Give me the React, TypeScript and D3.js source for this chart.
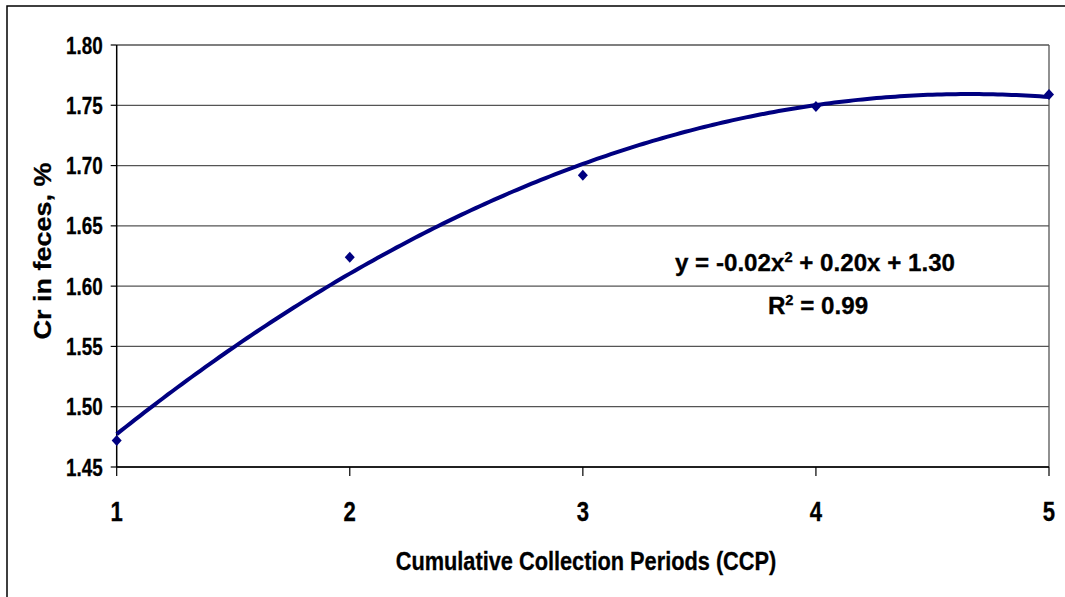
import { line as d3_line, range, scaleLinear } from "d3";
import type { FC, ReactNode } from "react";

// data
const periods = [1, 2, 3, 4, 5];
const crValues = [1.472, 1.624, 1.692, 1.749, 1.759];
const yTicks = [1.45, 1.5, 1.55, 1.6, 1.65, 1.7, 1.75, 1.8];
const xTicks = [1, 2, 3, 4, 5];

const W = 1065;
const H = 597;
const M = { left: 116.7, right: 1049, top: 45, bottom: 467 };
const NAVY = "#000080";
const FONT = "'Liberation Sans', Arial, sans-serif";

// least squares fit y = a + b x + c x^2 (solve 3x3 normal equations)
const fitQuadratic = (xs: number[], ys: number[]) => {
  const s = (p: number) => xs.reduce((acc, x) => acc + x ** p, 0);
  const t = (p: number) => xs.reduce((acc, x, i) => acc + x ** p * ys[i], 0);
  const A = [
    [s(0), s(1), s(2), t(0)],
    [s(1), s(2), s(3), t(1)],
    [s(2), s(3), s(4), t(2)],
  ];
  for (let i = 0; i < 3; i++) {
    for (let k = i + 1; k < 3; k++) {
      const f = A[k][i] / A[i][i];
      for (let j = i; j < 4; j++) A[k][j] -= f * A[i][j];
    }
  }
  const r = [0, 0, 0];
  for (let i = 2; i >= 0; i--) {
    let v = A[i][3];
    for (let j = i + 1; j < 3; j++) v -= A[i][j] * r[j];
    r[i] = v / A[i][i];
  }
  return (x: number) => r[0] + r[1] * x + r[2] * x * x;
};

// text helper, the original text is a bit squeezed / stretched horizontally
const Label: FC<{
  x: number;
  y: number;
  size: number;
  sx?: number;
  anchor?: "start" | "middle" | "end";
  rotate?: boolean;
  children: ReactNode;
}> = ({ x, y, size, sx = 1, anchor = "middle", rotate, children }) => (
  <text
    transform={
      rotate
        ? `translate(${x},${y}) rotate(-90) scale(1,${sx})`
        : `translate(${x},${y}) scale(${sx},1)`
    }
    textAnchor={anchor}
    fontFamily={FONT}
    fontWeight="bold"
    fontSize={size}
    fill="#000"
    stroke="#000"
    strokeWidth={0.3}
  >
    {children}
  </text>
);

const App: FC = () => {
  const x = scaleLinear().domain([1, 5]).range([M.left, M.right]);
  const y = scaleLinear().domain([1.45, 1.8]).range([M.bottom, M.top]);

  const trend = fitQuadratic(periods, crValues);
  const trendLine = d3_line<number>()
    .x((d) => x(d))
    .y((d) => y(trend(d)));
  const samples = [...range(1, 5, 0.02), 5];

  return (
    <svg
      width={W}
      height={H}
      style={{ position: "fixed", left: 0, top: 0, background: "#fff" }}
    >
      <rect x={0} y={0} width={W} height={H} fill="#fff" />
      {/* outer chart border */}
      <rect x={7} y={6} width={W + 20} height={H + 20} fill="none" stroke="#000" strokeWidth={1.5} />

      {/* gridlines */}
      {yTicks.map((v) => (
        <line key={v} x1={M.left} x2={M.right} y1={y(v)} y2={y(v)} stroke="#555" strokeWidth={1.3} />
      ))}
      {/* plot right edge */}
      <line x1={M.right} x2={M.right} y1={M.top} y2={M.bottom} stroke="#555" strokeWidth={1.3} />

      {/* y axis */}
      <line x1={M.left} x2={M.left} y1={M.top} y2={M.bottom} stroke="#000" strokeWidth={1.5} />
      {yTicks.map((v) => (
        <g key={v}>
          <line x1={M.left - 6} x2={M.left} y1={y(v)} y2={y(v)} stroke="#000" strokeWidth={1.2} />
          <Label x={M.left - 14} y={y(v) + 8.5} size={23} sx={0.82} anchor="end">
            {v.toFixed(2)}
          </Label>
        </g>
      ))}

      {/* x axis */}
      <line x1={M.left} x2={M.right} y1={M.bottom} y2={M.bottom} stroke="#000" strokeWidth={1.5} />
      {xTicks.map((v) => (
        <g key={v}>
          <line x1={x(v)} x2={x(v)} y1={M.bottom} y2={M.bottom + 9} stroke="#000" strokeWidth={1.2} />
          <Label x={x(v)} y={521} size={27} sx={0.82}>
            {v}
          </Label>
        </g>
      ))}

      {/* trendline */}
      <path d={trendLine(samples) ?? ""} fill="none" stroke={NAVY} strokeWidth={4} strokeLinejoin="round" />

      {/* data points */}
      {periods.map((p, i) => (
        <path
          key={p}
          transform={`translate(${x(p)},${y(crValues[i])})`}
          d="M0,-5.5L5,0L0,5.5L-5,0Z"
          fill={NAVY}
        />
      ))}

      {/* equation */}
      <Label x={815} y={271} size={23} sx={1.05}>
        y = -0.02x<tspan dy={-9} fontSize={14}>2</tspan>
        <tspan dy={9}> + 0.20x + 1.30</tspan>
      </Label>
      <Label x={818} y={314} size={23} sx={1.05}>
        R<tspan dy={-9} fontSize={14}>2</tspan>
        <tspan dy={9}> = 0.99</tspan>
      </Label>

      {/* axis titles */}
      <Label x={586} y={570} size={25} sx={0.87}>
        Cumulative Collection Periods (CCP)
      </Label>
      <Label x={51} y={251} size={27} sx={0.87} rotate>
        Cr in feces, %
      </Label>
    </svg>
  );
};

export default App;
